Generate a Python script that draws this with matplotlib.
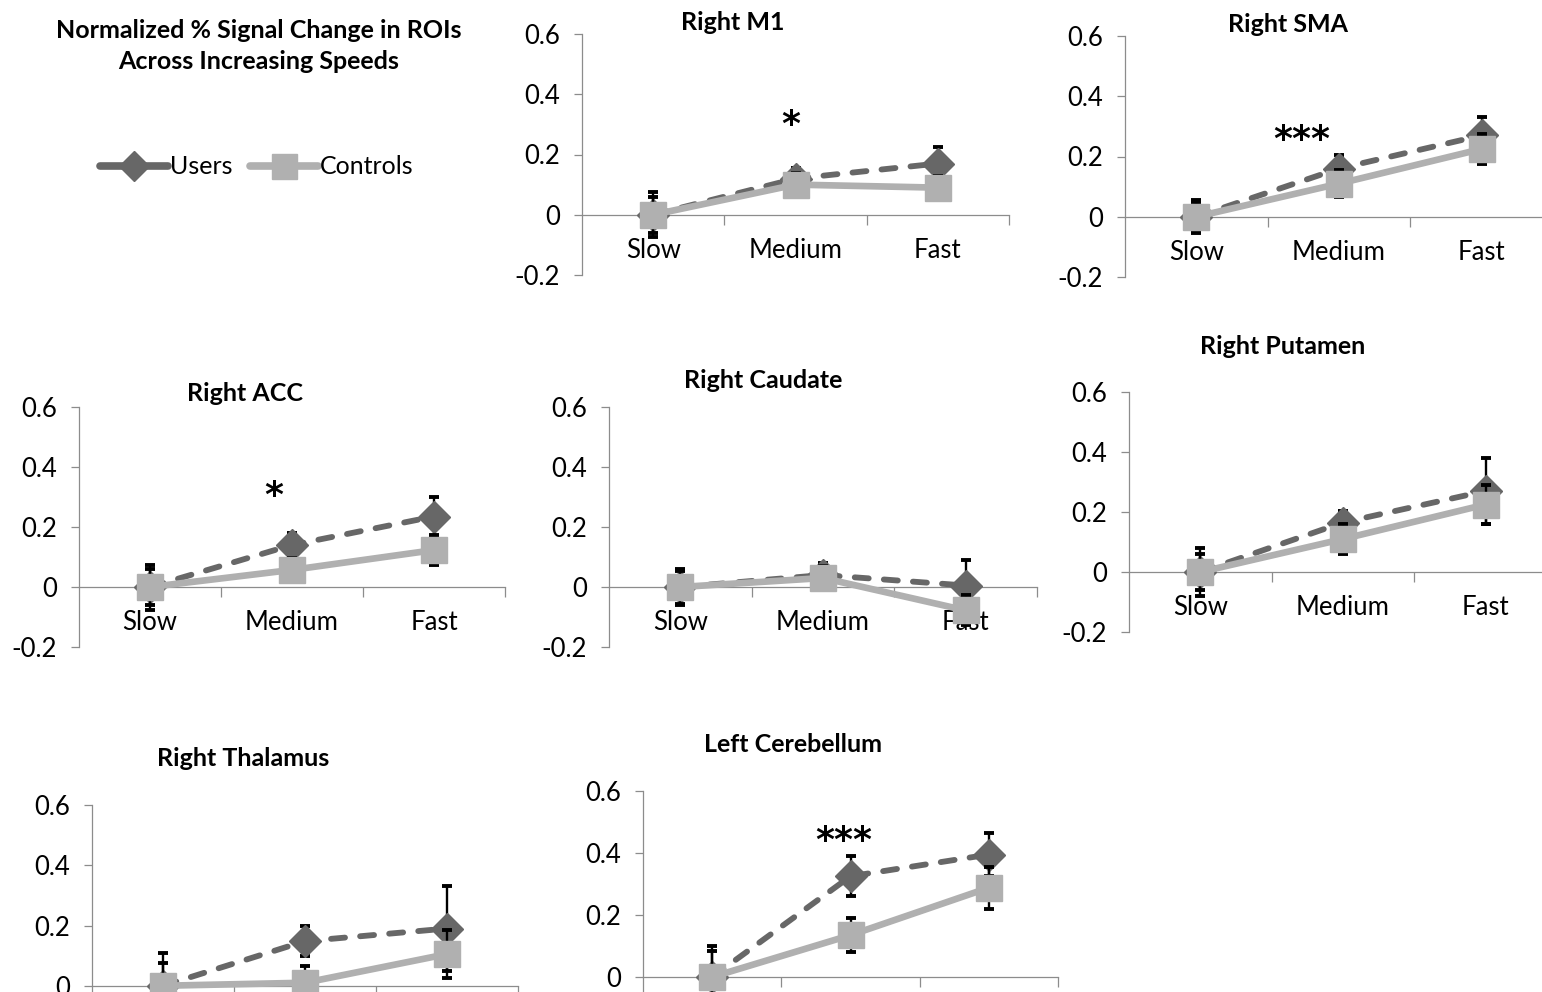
import matplotlib
matplotlib.use("Agg")
import matplotlib.pyplot as plt
from matplotlib.lines import Line2D

plt.rcParams.update({
    "font.family": ["Lato", "DejaVu Sans"],
    "font.size": 18,
})

USERS = "#676767"
CONTROLS = "#b0b0b0"
AXIS = "#8c8c8c"

# ── data (normalized % signal change) ──────────────────────────────────────────
speeds = ["Slow", "Medium", "Fast"]
regions = ["Right M1", "Right SMA", "Right ACC", "Right Caudate",
           "Right Putamen", "Right Thalamus", "Left Cerebellum"]

users_mean = [
    [0, 0.120, 0.170],
    [0, 0.160, 0.270],
    [0, 0.140, 0.235],
    [0, 0.040, 0.005],
    [0, 0.165, 0.270],
    [0, 0.148, 0.190],
    [0, 0.325, 0.395],
]
users_err = [
    [0.075, 0.035, 0.055],
    [0.055, 0.045, 0.060],
    [0.075, 0.040, 0.065],
    [0.060, 0.040, 0.085],
    [0.080, 0.040, 0.110],
    [0.110, 0.050, 0.140],
    [0.100, 0.065, 0.070],
]
controls_mean = [
    [0, 0.100, 0.090],
    [0, 0.110, 0.225],
    [0, 0.057, 0.123],
    [0, 0.030, -0.078],
    [0, 0.110, 0.225],
    [0, 0.010, 0.105],
    [0, 0.135, 0.288],
]
controls_err = [
    [0.060, 0.040, 0.040],
    [0.050, 0.045, 0.050],
    [0.060, 0.040, 0.050],
    [0.055, 0.040, 0.050],
    [0.060, 0.050, 0.065],
    [0.075, 0.055, 0.080],
    [0.085, 0.055, 0.068],
]
stars = ["*", "***", "*", "", "", "", "***"]
star_y = [0.325, 0.28, 0.33, 0, 0, 0, 0.465]

# ── layout in pixels: y-axis x, y of 0.6, axis width, y of -0.2 ────────────────
W, H = 1542, 992
panel_px = [
    (582, 34, 427, 275),
    (1125, 36, 428, 277),
    (79, 407, 426, 647),
    (609, 407, 428, 647),
    (1129, 392, 428, 632),
    (92, 805, 426, 1046),
    (643, 791, 415, 1039),
]
title_px = [(733, 22), (1288, 24), (245, 393), (763, 381),
            (1283, 346), (243, 758), (793, 745)]
star_x = [1.47, 1.24, 1.37, 0, 0, 0, 1.45]
cut_off = [False, False, False, False, False, True, True]   # bottom row runs off the page

fig = plt.figure(figsize=(W / 100, H / 100), dpi=100)
xs = [0.5, 1.5, 2.5]

for i, name in enumerate(regions):
    x0, y06, w, ym02 = panel_px[i]
    ax = fig.add_axes([x0 / W, 1 - ym02 / H, w / W, (ym02 - y06) / H])
    ax.patch.set_alpha(0)
    ax.set_xlim(0, 3)
    ax.set_ylim(-0.2, 0.6)

    ax.errorbar(xs, users_mean[i], yerr=users_err[i], fmt="none", ecolor="black",
                elinewidth=1.7, capsize=3.8, capthick=2.8, zorder=2)
    ax.plot(xs, users_mean[i], color=USERS, lw=4.2, dashes=(2.4, 2.6),
            dash_capstyle="round", marker="D", ms=16, mfc=USERS, mec=USERS, zorder=3)
    ax.errorbar(xs, controls_mean[i], yerr=controls_err[i], fmt="none", ecolor="black",
                elinewidth=1.7, capsize=3.8, capthick=2.8, zorder=4)
    ax.plot(xs, controls_mean[i], color=CONTROLS, lw=4.8, solid_capstyle="round",
            marker="s", ms=19, mfc=CONTROLS, mec=CONTROLS, zorder=5)

    for s in ["top", "right"]:
        ax.spines[s].set_visible(False)
    ax.spines["bottom"].set_position(("data", 0))
    for s in ["bottom", "left"]:
        ax.spines[s].set_color(AXIS)
        ax.spines[s].set_linewidth(0.9)

    ax.set_xticks([1, 2, 3])
    ax.set_xticklabels([])
    ax.tick_params(axis="x", direction="out", length=7, color=AXIS, width=0.9)
    if cut_off[i]:
        ax.set_yticks([0, 0.2, 0.4, 0.6])
        ax.set_yticklabels(["0", "0.2", "0.4", "0.6"])
    else:
        ax.set_yticks([-0.2, 0, 0.2, 0.4, 0.6])
        ax.set_yticklabels(["-0.2", "0", "0.2", "0.4", "0.6"])
    ax.tick_params(axis="y", direction="out", length=6, color=AXIS, width=0.9,
                   pad=10, labelsize=18.5)

    if not cut_off[i]:
        for x, lab in zip(xs, speeds):
            ax.text(x, -0.118, lab, ha="center", va="center", fontsize=18.5)

    if stars[i]:
        ax.annotate(stars[i], (star_x[i], star_y[i]), xytext=(0, -13),
                    textcoords="offset points", ha="center", va="baseline",
                    fontsize=26, family="DejaVu Sans", weight="bold")

    tx, ty = title_px[i]
    fig.text(tx / W, 1 - ty / H, name, ha="center", va="center",
             fontsize=18, weight="bold")

fig.text(259 / W, 1 - 46 / H, "Normalized % Signal Change in ROIs\nAcross Increasing Speeds",
         ha="center", va="center", fontsize=18, weight="bold", linespacing=1.42)

handles = [
    Line2D([], [], color=USERS, lw=5.5, marker="D", ms=15, solid_capstyle="round"),
    Line2D([], [], color=CONTROLS, lw=5.5, marker="s", ms=18, solid_capstyle="round"),
]
fig.legend(handles, ["Users", "Controls"], loc="center", bbox_to_anchor=(257 / W, 1 - 167 / H),
           ncol=2, frameon=False, handlelength=2.7, handletextpad=0.1,
           columnspacing=0.7, fontsize=18)

fig.savefig("out.png", dpi=100)
